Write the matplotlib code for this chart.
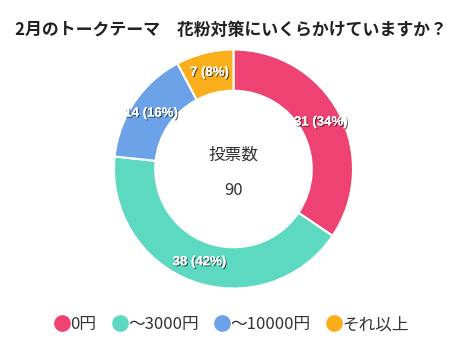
import matplotlib.pyplot as plt
import matplotlib.patheffects as pe
from matplotlib.lines import Line2D
import numpy as np

plt.rcParams['font.family'] = ['Noto Sans CJK JP', 'DejaVu Sans']

title = '2月のトークテーマ　花粉対策にいくらかけていますか？'
categories = ['0円', '～3000円', '～10000円', 'それ以上']
votes = [31, 38, 14, 7]
colors = ['#EE4272', '#5DD9C1', '#6BA2E8', '#FBAE1C']

total = sum(votes)

fig = plt.figure(figsize=(4.62, 3.39), dpi=100)
fig.text(0.5, 0.9115, title, ha='center', va='center', fontsize=12.2, fontweight='bold', color='#222222')

ax = fig.add_axes([114 / 462, 50.5 / 339, 239 / 462, 239 / 339])
wedges, _ = ax.pie(votes, colors=colors, startangle=90, counterclock=False, radius=1,
                   wedgeprops=dict(width=0.345, edgecolor='white', linewidth=1.5))
ax.set_xlim(-1, 1)
ax.set_ylim(-1, 1)
ax.set_aspect('equal')
ax.axis('off')

# labels in the ring
angle = 90.0
for v in votes:
    sweep = v / total * 360
    mid = np.deg2rad(angle - sweep / 2)
    angle -= sweep
    r = 0.83
    pct = round(v / total * 100)
    ax.text(r * np.cos(mid), r * np.sin(mid), f'{v} ({pct}%)', ha='center', va='center',
            fontsize=9.5, fontweight='bold', color='white', family=['Liberation Sans'],
            path_effects=[pe.withSimplePatchShadow(offset=(0.8, -0.8), shadow_rgbFace='black', alpha=0.6),
                          pe.Normal()])

ax.text(0, 0.117, '投票数', ha='center', va='center', fontsize=12, color='#333333')
ax.text(0, -0.176, str(total), ha='center', va='center', fontsize=12, color='#333333')

handles = [Line2D([0], [0], marker='o', linestyle='', markersize=11, markerfacecolor=c, markeredgecolor=c)
           for c in colors]
fig.legend(handles, categories, loc='center', bbox_to_anchor=(0.5, 0.042), ncol=4, frameon=False,
           fontsize=12, handletextpad=0.0, columnspacing=0.9, handlelength=1.0, labelcolor='#333333')

fig.savefig('out.png', dpi=100)
